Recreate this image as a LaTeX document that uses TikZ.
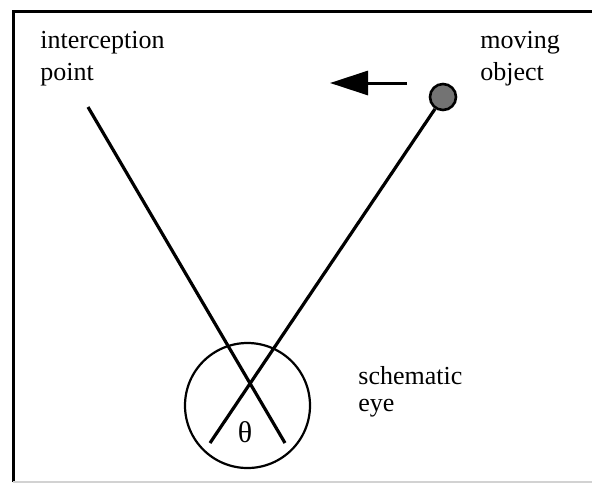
\documentclass[tikz,border=0pt]{standalone}
\usepackage{fontspec}
\setmainfont{Liberation Serif}
\usetikzlibrary{arrows.meta}

\begin{document}
\begin{tikzpicture}[x=0.5pt,y=-0.5pt,
  lbl/.style={inner sep=0pt, align=left, font=\fontsize{13}{16}\selectfont},
  ray/.style={line width=1.6pt},
  ]
  \def\R{31.25pt}
  \useasboundingbox (0,0) rectangle (592,488);

%frame:
  \draw[line width=1.5pt] (13,482) -- (13,11) -- (600,11);
  \draw[line width=0.6pt, color=gray!35] (13,482) -- (600,482);

%labels (anchored at the baseline of the last line):
  \node[lbl, anchor=base west] (ip) at (40,80) {interception\\point};
  \node[lbl, anchor=base west] (mo) at (480,80) {moving\\object};
  \node[lbl, anchor=base west, font=\fontsize{13}{13.5}\selectfont] (se) at (358,411) {schematic\\eye};

%eye:
  \node[circle, draw, line width=1.1pt, minimum size=2*\R, inner sep=0pt] (eye) at (247.5,405.5) {};
  \node[inner sep=0pt, font=\fontsize{15}{16}\selectfont] (th) at (245,432) {θ};

%object and rays:
  \node[circle, draw, line width=1.3pt, fill=black!55, minimum size=13pt, inner sep=0pt] (obj) at (443,97) {};
  \coordinate (aim) at (88,107);
  \coordinate (lend) at (210,443);
  \coordinate (rend) at (285,443);
  \draw[ray] (aim) -- (rend);
  \draw[ray] (obj) -- (lend);

  \coordinate (mstart) at (407,83);
  \coordinate (mtip) at (330,83);
  \draw[line width=1.5pt, -{Triangle[length=19pt,width=12pt]}] (mstart) -- (mtip);
\end{tikzpicture}
\end{document}
